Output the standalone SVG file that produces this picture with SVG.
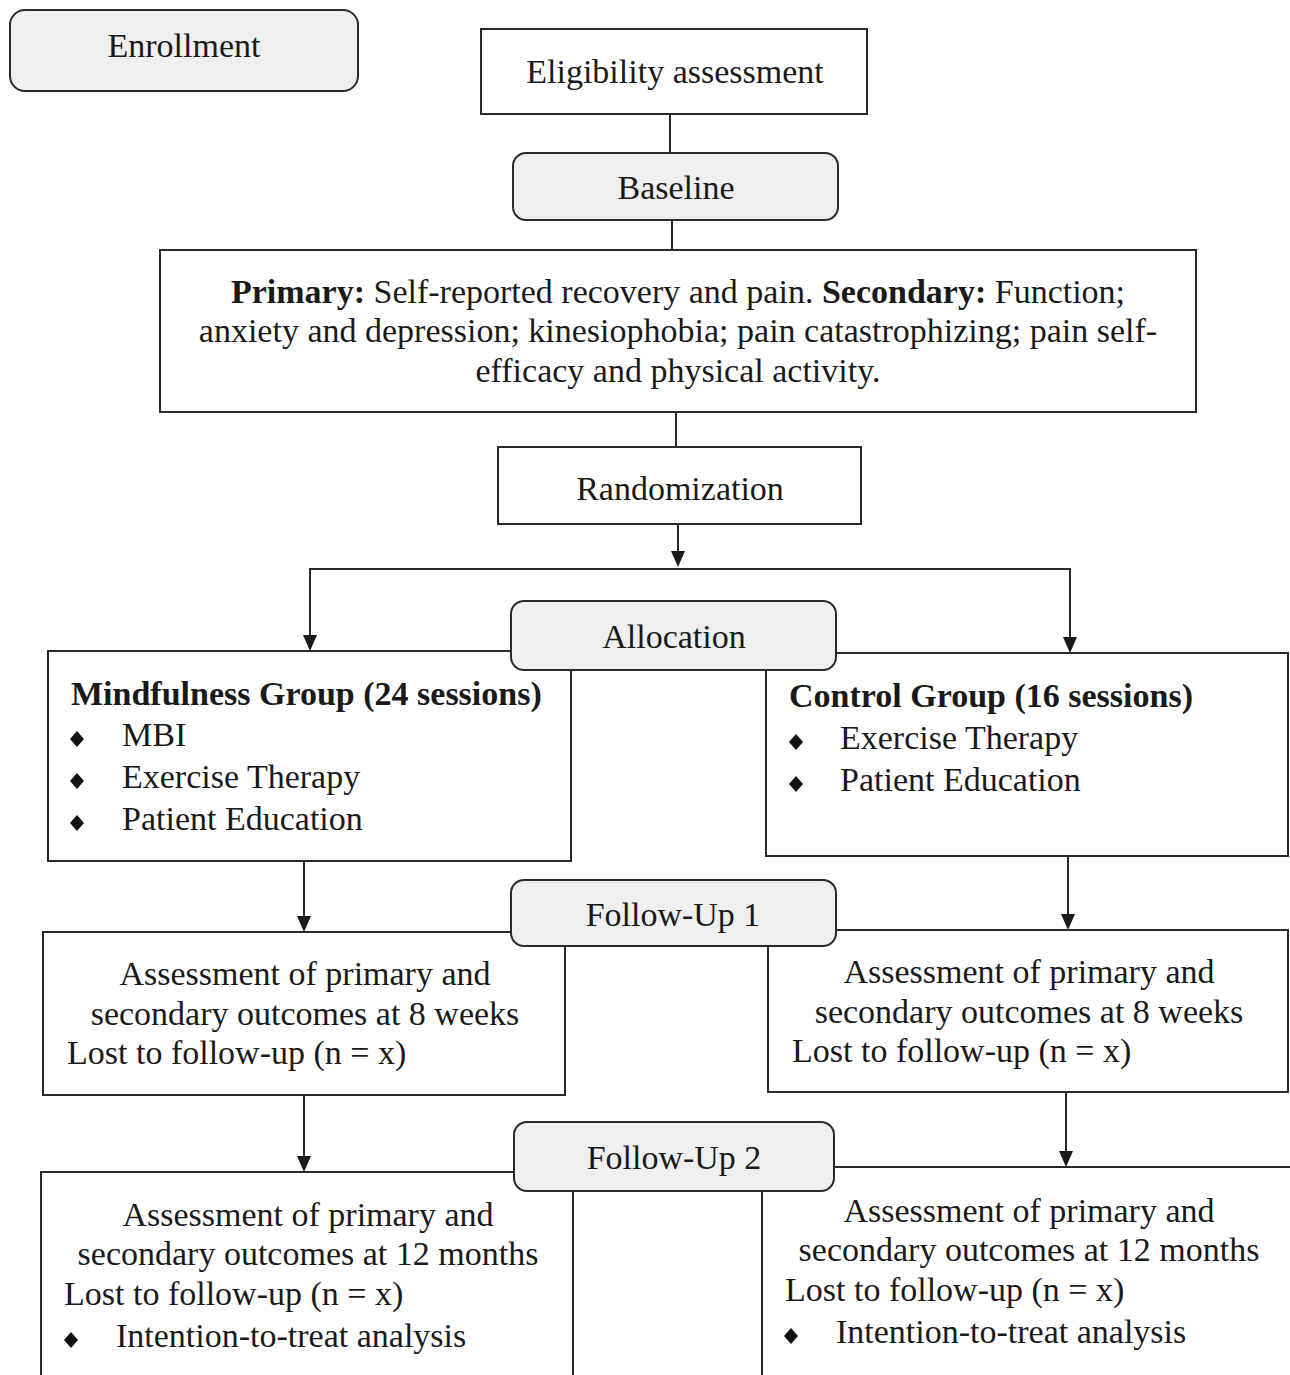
<svg xmlns="http://www.w3.org/2000/svg" width="1290" height="1375" viewBox="0 0 1290 1375">
<style>
  .box{fill:#ffffff;stroke:#2a2a2a;stroke-width:2}
  .phase{fill:#efefef;stroke:#2a2a2a;stroke-width:2}
  .ln{fill:none;stroke:#2a2a2a;stroke-width:2}
  text{font-family:"Liberation Serif","Times New Roman",serif;font-size:34px;fill:#1a1a1a}
  .c{text-anchor:middle}
  .b{font-weight:bold}
</style>
<defs>
  <path id="dia" d="M0,-8 L7,0 L0,8 L-7,0 Z" fill="#111"/>
  <path id="ah" d="M-7,-16 L7,-16 L0,0 Z" fill="#1a1a1a"/>
</defs>
<rect width="1290" height="1375" fill="#ffffff"/>

<g id="connectors">
  <line class="ln" x1="670" y1="114" x2="670" y2="153"/>
  <line class="ln" x1="672" y1="220" x2="672" y2="250"/>
  <line class="ln" x1="676" y1="412" x2="676" y2="447"/>
  <path class="ln" d="M678,524 V556"/>
  <use href="#ah" x="678" y="567"/>
  <line class="ln" x1="309" y1="569" x2="1071" y2="569"/>
  <path class="ln" d="M310,569 V640"/>
  <use href="#ah" x="310" y="651"/>
  <path class="ln" d="M1070,569 V642"/>
  <use href="#ah" x="1070" y="653"/>
  <path class="ln" d="M304,861 V920"/>
  <use href="#ah" x="304" y="932"/>
  <path class="ln" d="M1068,856 V918"/>
  <use href="#ah" x="1068" y="930"/>
  <path class="ln" d="M304,1095 V1160"/>
  <use href="#ah" x="304" y="1172"/>
  <path class="ln" d="M1066,1092 V1156"/>
  <use href="#ah" x="1066" y="1167"/>
</g>

<g id="eligibility">
  <rect class="box" x="481" y="29" width="386" height="85"/>
  <text class="c" x="675" y="83">Eligibility assessment</text>
</g>

<g id="outcomes">
  <rect class="box" x="160" y="250" width="1036" height="162"/>
  <text class="c" x="678" y="303"><tspan class="b">Primary:</tspan> Self-reported recovery and pain. <tspan class="b">Secondary:</tspan> Function;</text>
  <text class="c" x="678" y="342">anxiety and depression; kinesiophobia; pain catastrophizing; pain self-</text>
  <text class="c" x="678" y="382">efficacy and physical activity.</text>
</g>

<g id="randomization">
  <rect class="box" x="498" y="447" width="363" height="77"/>
  <text class="c" x="680" y="500">Randomization</text>
</g>

<g id="mindfulness-group">
  <rect class="box" x="48" y="651" width="523" height="210"/>
  <text class="b" x="71" y="705">Mindfulness Group (24 sessions)</text>
  <use href="#dia" x="77" y="739"/>
  <text x="122" y="746">MBI</text>
  <use href="#dia" x="77" y="781"/>
  <text x="122" y="788">Exercise Therapy</text>
  <use href="#dia" x="77" y="823"/>
  <text x="122" y="830">Patient Education</text>
</g>

<g id="control-group">
  <rect class="box" x="766" y="653" width="522" height="203"/>
  <text class="b" x="789" y="707">Control Group (16 sessions)</text>
  <use href="#dia" x="796" y="742"/>
  <text x="840" y="749">Exercise Therapy</text>
  <use href="#dia" x="796" y="784"/>
  <text x="840" y="791">Patient Education</text>
</g>

<g id="mindfulness-fu1">
  <rect class="box" x="43" y="932" width="522" height="163"/>
  <text class="c" x="305" y="985">Assessment of primary and</text>
  <text class="c" x="305" y="1025">secondary outcomes at 8 weeks</text>
  <text x="67" y="1064">Lost to follow-up (n = x)</text>
</g>

<g id="control-fu1">
  <rect class="box" x="768" y="930" width="520" height="162"/>
  <text class="c" x="1029" y="983">Assessment of primary and</text>
  <text class="c" x="1029" y="1023">secondary outcomes at 8 weeks</text>
  <text x="792" y="1062">Lost to follow-up (n = x)</text>
</g>

<g id="mindfulness-fu2">
  <rect class="box" x="41" y="1172" width="532" height="220"/>
  <text class="c" x="308" y="1226">Assessment of primary and</text>
  <text class="c" x="308" y="1265">secondary outcomes at 12 months</text>
  <text x="64" y="1305">Lost to follow-up (n = x)</text>
  <use href="#dia" x="71" y="1340"/>
  <text x="116" y="1347">Intention-to-treat analysis</text>
</g>

<g id="control-fu2">
  <rect class="box" x="762" y="1167" width="540" height="220"/>
  <text class="c" x="1029" y="1222">Assessment of primary and</text>
  <text class="c" x="1029" y="1261">secondary outcomes at 12 months</text>
  <text x="785" y="1301">Lost to follow-up (n = x)</text>
  <use href="#dia" x="791" y="1336"/>
  <text x="836" y="1343">Intention-to-treat analysis</text>
</g>

<g id="enrollment">
  <rect class="phase" x="10" y="10" width="348" height="81" rx="15"/>
  <text class="c" x="184" y="57">Enrollment</text>
</g>

<g id="baseline">
  <rect class="phase" x="513" y="153" width="325" height="67" rx="13"/>
  <text class="c" x="676" y="199">Baseline</text>
</g>

<g id="allocation">
  <rect class="phase" x="511" y="601" width="325" height="69" rx="13"/>
  <text class="c" x="674" y="648">Allocation</text>
</g>

<g id="follow-up-1">
  <rect class="phase" x="511" y="880" width="325" height="66" rx="13"/>
  <text class="c" x="673" y="926">Follow-Up 1</text>
</g>

<g id="follow-up-2">
  <rect class="phase" x="514" y="1122" width="320" height="69" rx="13"/>
  <text class="c" x="674" y="1169">Follow-Up 2</text>
</g>
</svg>
